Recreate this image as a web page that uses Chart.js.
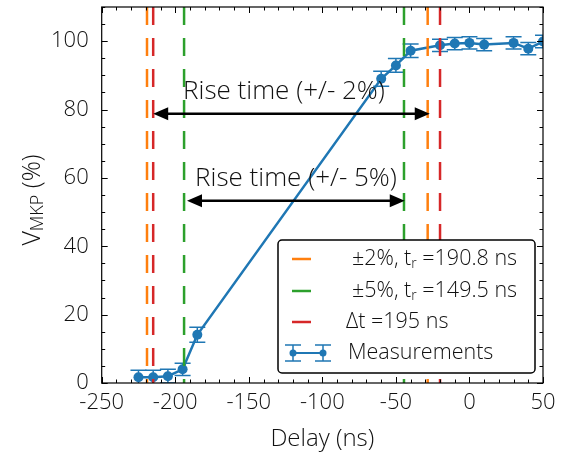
<!DOCTYPE html>
<html>
<head>
<meta charset="utf-8">
<script src="https://cdn.jsdelivr.net/npm/chart.js@4.4.1/dist/chart.umd.min.js"></script>
<style>
  html, body { margin: 0; padding: 0; background: #fff; }
  #wrap { width: 563px; height: 452px; }
</style>
</head>
<body>
<div id="wrap"><canvas id="riseChart"></canvas></div>
<script>
// measured points (delay in ns, V_MKP in %)
const delays = [-225, -215, -205, -195, -185, -60, -50, -40, -20, -10, 0, 10, 30, 40, 50];
const vmkp = [1.7, 1.7, 2.0, 4.0, 14.1, 89.0, 92.9, 97.2, 98.8, 99.3, 99.5, 99.0, 99.5, 97.8, 99.9];
const vmkpErr = [2, 2, 2, 1.8, 2.2, 2.2, 2, 2, 1.8, 1.8, 1.8, 1.8, 1.8, 1.8, 1.8];

// threshold crossing times (ns)
const cross2 = [-219.2, -28.4];
const cross5 = [-194.0, -44.5];
const crossDt = [-215.0, -20.0];

// arrows: [x start, x end, y]
const arrow2 = [-215, -27, 78.8];
const arrow5 = [-192, -44, 53.3];
const arrowText = ['Rise time (+/- 2%)', 'Rise time (+/- 5%)'];

const xTicks = [-250, -200, -150, -100, -50, 0, 50];
const yTicks = [0, 20, 40, 60, 80, 100];

const legendLabels = ['\u00b12%, t', '\u00b15%, t', '\u0394t =195 ns', 'Measurements'];
const legendValues = [' =190.8 ns', ' =149.5 ns'];

const BLUE = '#1f77b4', ORANGE = '#ff7f0e', GREEN = '#2ca02c', RED = '#d62728';
const FONT = '"Open Sans", "Liberation Sans", sans-serif';

function vline(xv, color) {
  return {
    type: 'line',
    data: [{ x: xv, y: 110 }, { x: xv, y: 0 }],
    borderColor: color,
    borderWidth: 2.5,
    borderDash: [18, 13],
    pointRadius: 0,
    order: 0
  };
}

const lineSets = [];
cross2.forEach(v => lineSets.push(vline(v, ORANGE)));
cross5.forEach(v => lineSets.push(vline(v, GREEN)));
crossDt.forEach(v => lineSets.push(vline(v, RED)));

// frame with inward ticks on all four sides
const framePlugin = {
  id: 'frame',
  afterDraw(chart) {
    const { ctx, chartArea: a, scales: { x, y } } = chart;
    ctx.save();
    ctx.strokeStyle = '#000';
    ctx.lineWidth = 1.2;
    ctx.strokeRect(a.left, a.top, a.right - a.left, a.bottom - a.top);
    ctx.lineWidth = 1;
    for (let v = -250; v <= 50; v += 10) {
      const px = Math.round(x.getPixelForValue(v)) + 0.5;
      const len = xTicks.includes(v) ? 6 : 3.5;
      ctx.beginPath();
      ctx.moveTo(px, a.bottom); ctx.lineTo(px, a.bottom - len);
      ctx.moveTo(px, a.top); ctx.lineTo(px, a.top + len);
      ctx.stroke();
    }
    for (let v = 0; v <= 110; v += 5) {
      const py = Math.round(y.getPixelForValue(v)) + 0.5;
      const len = yTicks.includes(v) ? 6 : 3.5;
      ctx.beginPath();
      ctx.moveTo(a.left, py); ctx.lineTo(a.left + len, py);
      ctx.moveTo(a.right, py); ctx.lineTo(a.right - len, py);
      ctx.stroke();
    }
    ctx.restore();
  }
};

const errorPlugin = {
  id: 'errorbars',
  beforeDatasetsDraw(chart) {
    const { ctx, chartArea: a, scales: { x, y } } = chart;
    ctx.save();
    ctx.beginPath();
    ctx.rect(a.left, a.top, a.right - a.left, a.bottom - a.top);
    ctx.clip();
    ctx.strokeStyle = BLUE;
    ctx.lineWidth = 1.5;
    delays.forEach((d, i) => {
      const px = x.getPixelForValue(d);
      const top = y.getPixelForValue(vmkp[i] + vmkpErr[i]);
      const bot = y.getPixelForValue(vmkp[i] - vmkpErr[i]);
      ctx.beginPath();
      ctx.moveTo(px, top); ctx.lineTo(px, bot);
      ctx.moveTo(px - 8, top); ctx.lineTo(px + 8, top);
      ctx.moveTo(px - 8, bot); ctx.lineTo(px + 8, bot);
      ctx.stroke();
    });
    ctx.restore();
  }
};

function drawArrow(ctx, x0, x1, py) {
  ctx.beginPath();
  ctx.moveTo(x0 + 10, py); ctx.lineTo(x1 - 10, py);
  ctx.stroke();
  ctx.beginPath();
  ctx.moveTo(x0, py); ctx.lineTo(x0 + 15, py - 6.5); ctx.lineTo(x0 + 15, py + 6.5); ctx.closePath();
  ctx.fill();
  ctx.beginPath();
  ctx.moveTo(x1, py); ctx.lineTo(x1 - 15, py - 6.5); ctx.lineTo(x1 - 15, py + 6.5); ctx.closePath();
  ctx.fill();
}

const annotPlugin = {
  id: 'annot',
  afterDatasetsDraw(chart) {
    const { ctx, scales: { x, y } } = chart;
    ctx.save();
    ctx.strokeStyle = '#000';
    ctx.fillStyle = '#000';
    ctx.lineWidth = 2.5;
    const textX = [284, 296];
    [arrow2, arrow5].forEach((ar, i) => {
      const x0 = x.getPixelForValue(ar[0]);
      const x1 = x.getPixelForValue(ar[1]);
      const py = y.getPixelForValue(ar[2]);
      drawArrow(ctx, x0, x1, py);
      ctx.font = '300 26px ' + FONT;
      ctx.textAlign = 'center';
      ctx.textBaseline = 'middle';
      ctx.fillStyle = '#111';
      ctx.fillText(arrowText[i], textX[i], py - 22);
      ctx.fillStyle = '#000';
    });
    ctx.restore();
  },
  afterDraw(chart) {
    const { ctx, chartArea: a } = chart;
    ctx.save();
    // axis titles
    ctx.fillStyle = '#111';
    ctx.font = '300 24px ' + FONT;
    ctx.textAlign = 'center';
    ctx.textBaseline = 'middle';
    ctx.fillText('Delay (ns)', (a.left + a.right) / 2, 439);
    ctx.translate(33, 200);
    ctx.rotate(-Math.PI / 2);
    ctx.textAlign = 'left';
    const big = '300 25px ' + FONT, small = '300 18px ' + FONT;
    ctx.font = big; const wV = ctx.measureText('V').width;
    ctx.font = small; const wS = ctx.measureText('MKP').width;
    ctx.font = big; const wP = ctx.measureText(' (%)').width;
    let sx = -(wV + wS + wP) / 2;
    ctx.font = big; ctx.fillText('V', sx, 0); sx += wV;
    ctx.font = small; ctx.fillText('MKP', sx, 5); sx += wS;
    ctx.font = big; ctx.fillText(' (%)', sx, 0);
    ctx.restore();

    // legend box
    ctx.save();
    const lx = 278, ly = 240, lw = 257, lh = 133;
    ctx.fillStyle = '#fff';
    ctx.strokeStyle = '#000';
    ctx.lineWidth = 1.5;
    ctx.beginPath();
    ctx.roundRect(lx, ly, lw, lh, 4);
    ctx.fill();
    ctx.stroke();
    const rows = [259, 291, 322, 353];
    const colors = [ORANGE, GREEN, RED];
    ctx.lineWidth = 2.5;
    colors.forEach((c, i) => {
      ctx.strokeStyle = c;
      ctx.beginPath();
      ctx.moveTo(292, rows[i]); ctx.lineTo(311, rows[i]);
      ctx.stroke();
    });
    // measurements glyph
    ctx.strokeStyle = BLUE; ctx.fillStyle = BLUE;
    ctx.lineWidth = 2;
    ctx.beginPath(); ctx.moveTo(293, rows[3]); ctx.lineTo(323, rows[3]); ctx.stroke();
    ctx.lineWidth = 1.5;
    [293, 323].forEach(px => {
      ctx.beginPath();
      ctx.moveTo(px, rows[3] - 8); ctx.lineTo(px, rows[3] + 8);
      ctx.moveTo(px - 8, rows[3] - 8); ctx.lineTo(px + 8, rows[3] - 8);
      ctx.moveTo(px - 8, rows[3] + 8); ctx.lineTo(px + 8, rows[3] + 8);
      ctx.stroke();
      ctx.beginPath(); ctx.arc(px, rows[3], 3.5, 0, Math.PI * 2); ctx.fill();
    });
    ctx.fillStyle = '#111';
    ctx.textBaseline = 'middle';
    ctx.textAlign = 'left';
    const lf = '300 21.5px ' + FONT, sf = '300 14px ' + FONT;
    [0, 1].forEach(i => {
      let sx = 352;
      ctx.font = lf; ctx.fillText(legendLabels[i], sx, rows[i]); sx += ctx.measureText(legendLabels[i]).width;
      ctx.font = sf; ctx.fillText('r', sx, rows[i] + 5); sx += ctx.measureText('r').width;
      ctx.font = lf; ctx.fillText(legendValues[i], sx, rows[i]);
    });
    ctx.font = lf;
    ctx.fillText(legendLabels[2], 346, rows[2]);
    ctx.fillText(legendLabels[3], 348, rows[3]);
    ctx.restore();
  }
};

const ctx = document.getElementById('riseChart').getContext('2d');
const riseChart = new Chart(ctx, {
  type: 'line',
  data: {
    datasets: lineSets.concat([{
      label: 'Measurements',
      data: delays.map((d, i) => ({ x: d, y: vmkp[i] })),
      borderColor: BLUE,
      backgroundColor: BLUE,
      borderWidth: 2.5,
      pointRadius: 5,
      pointBackgroundColor: BLUE,
      pointBorderWidth: 0,
      tension: 0,
      order: 1
    }])
  },
  plugins: [errorPlugin, annotPlugin, framePlugin],
  options: {
    responsive: true,
    maintainAspectRatio: false,
    animation: false,
    layout: { padding: { top: 7, right: 20, left: 0, bottom: 0 } },
    plugins: {
      legend: { display: false },
      tooltip: { enabled: false }
    },
    scales: {
      x: {
        type: 'linear',
        min: -250,
        max: 50,
        afterBuildTicks: s => { s.ticks = xTicks.map(v => ({ value: v })); },
        afterFit: s => { s.height = 69; s.paddingLeft = 0; s.paddingRight = 0; },
        grid: { display: false, drawTicks: false },
        border: { display: false },
        ticks: {
          padding: 7,
          color: '#111',
          font: { family: FONT, size: 22, weight: 300 },
          maxRotation: 0
        }
      },
      y: {
        min: 0,
        max: 110,
        afterBuildTicks: s => { s.ticks = yTicks.map(v => ({ value: v })); },
        afterFit: s => { s.width = 101.7; s.paddingTop = 0; s.paddingBottom = 0; },
        grid: { display: false, drawTicks: false },
        border: { display: false },
        ticks: {
          padding: 13,
          color: '#111',
          font: { family: FONT, size: 22, weight: 300 }
        }
      }
    }
  }
});
</script>
</body>
</html>
